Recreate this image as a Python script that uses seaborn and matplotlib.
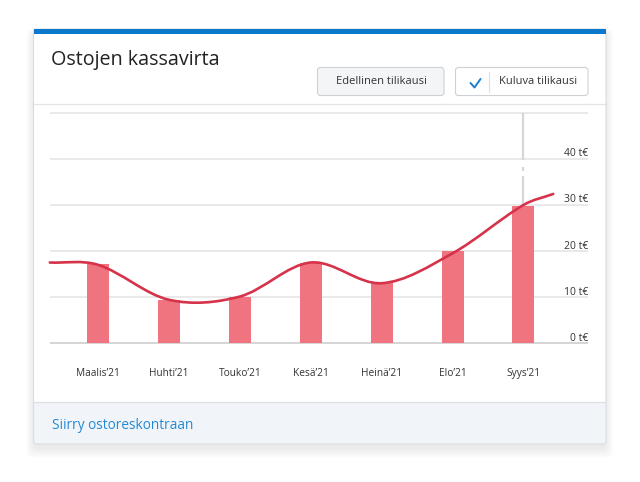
import matplotlib
matplotlib.use("Agg")
import matplotlib.pyplot as plt
import matplotlib.transforms as mtransforms
import seaborn as sns
from matplotlib.patches import FancyBboxPatch, Rectangle, PathPatch
from matplotlib.path import Path

# ---------------- data ----------------
months = ["Maalis’21", "Huhti’21", "Touko’21", "Kesä’21", "Heinä’21", "Elo’21", "Syys’21"]
bar_values = [17.2, 9.4, 10.1, 17.5, 13.2, 20.0, 29.8]
line_x = [-0.68, 0, 1, 2, 3, 4, 5, 6, 6.42]
line_values = [17.5, 17.0, 9.4, 10.1, 17.5, 13.0, 19.5, 30.0, 32.4]
y_ticks = [0, 10, 20, 30, 40, 50]
y_tick_labels = ["0 t€", "10 t€", "20 t€", "30 t€", "40 t€", ""]
cursor_x = 6
cursor_lo = [29.85, 37.3, 39.85]
cursor_hi = [36.2, 38.3, 50.0]
title = "Ostojen kassavirta"
btn_prev = "Edellinen tilikausi"
btn_curr = "Kuluva tilikausi"
footer_link = "Siirry ostoreskontraan"

# ---------------- style ----------------
sns.set_theme(style="white")
plt.rcParams['font.family'] = ['Open Sans', 'DejaVu Sans']

BAR_C = "#f07380"
LINE_C = "#d6334a"
GRID_C = "#e3e3e3"
TXT_C = "#333333"

fig = plt.figure(figsize=(6.4, 4.82), dpi=100)
fig.patch.set_facecolor("white")

# background / card axes in pixel coordinates
bg = fig.add_axes([0, 0, 1, 1])
bg.set_xlim(0, 640)
bg.set_ylim(482, 0)
bg.axis("off")

L, T, R, B = 33.5, 29.0, 606.0, 444.0
W, H = R - L, B - T

# soft shadow
for i in range(10):
    bg.add_patch(FancyBboxPatch((L - i * 0.8, T + 3 - i * 0.3), W + i * 1.6, H + 2 + i * 1.3,
                                boxstyle="round,pad=0,rounding_size=6",
                                fc="#000000", ec="none", alpha=0.009, zorder=0))
# card
bg.add_patch(FancyBboxPatch((L, T), W, H, boxstyle="round,pad=0,rounding_size=3",
                            fc="white", ec="none", zorder=1))
# footer
bg.add_patch(Rectangle((L, 402), W, B - 402, fc="#f1f5f9", ec="none", zorder=2))
bg.plot([L, R], [402, 402], color="#dde1e6", lw=0.9, zorder=3)
# header separator
bg.plot([L, R], [104, 104], color="#e4e4e4", lw=0.9, zorder=3)
# card border
bg.add_patch(FancyBboxPatch((L, T), W, H, boxstyle="round,pad=0,rounding_size=3",
                            fc="none", ec="#dcdcdc", lw=0.8, zorder=4))
# blue top bar
bg.add_patch(Rectangle((L, T), W, 5, fc="#0a79cc", ec="none", zorder=5))

# title
bg.text(51, 65, title, fontsize=14.2, color="#222222", va="baseline", ha="left", zorder=6)

# buttons
bg.add_patch(FancyBboxPatch((317.5, 67.5), 126.5, 28, boxstyle="round,pad=0,rounding_size=3",
                            fc="#f4f5f7", ec="#cdd1d6", lw=0.8, zorder=6))
bg.text(381, 82, btn_prev, fontsize=8, color=TXT_C, ha="center", va="center", zorder=7)
bg.add_patch(FancyBboxPatch((455.5, 67.5), 132.5, 28, boxstyle="round,pad=0,rounding_size=3",
                            fc="white", ec="#cdd1d6", lw=0.8, zorder=6))
bg.plot([470.5, 474.5, 480.5], [83, 87.5, 79], color="#1a7fd0", lw=1.4,
        solid_capstyle="round", solid_joinstyle="round", zorder=7)
bg.plot([489, 489], [72, 92], color="#e0e0e0", lw=0.9, zorder=7)
bg.text(499, 82, btn_curr, fontsize=8, color=TXT_C, ha="left", va="center", zorder=7)

# footer link
bg.text(51.5, 429, footer_link, fontsize=9.8, color="#2389d3", va="baseline", ha="left", zorder=7)

# ---------------- chart ----------------
top_px, bot_px = 111.6, 344.4
ax = fig.add_axes([50 / 640, 1 - bot_px / 482, 538 / 640, (bot_px - top_px) / 482])
ax.patch.set_alpha(0)

sns.barplot(x=months, y=bar_values, color=BAR_C, saturation=1, width=0.31,
            linewidth=0, ax=ax, zorder=2)

ax.set_xlim(-0.677, 6.91)
ax.set_ylim(-0.3, 50.3)
ax.set_yticks(y_ticks)
ax.set_axisbelow(True)
ax.grid(axis="y", color=GRID_C, lw=1.1)
ax.grid(axis="x", visible=False)
ax.axhline(0, color="#d6d6d6", lw=1.5, zorder=1)
for s in ax.spines.values():
    s.set_visible(False)
ax.tick_params(axis="y", length=0, labelleft=False)
ax.tick_params(axis="x", length=0, pad=17, labelsize=7.3, labelcolor=TXT_C)
ax.set_xlabel("")
ax.set_ylabel("")

# y labels sitting on the grid lines, right-aligned
blend = mtransforms.blended_transform_factory(ax.transAxes, ax.transData)
off = mtransforms.ScaledTranslation(0, 2.5 / 100, fig.dpi_scale_trans)
for v, lab in zip(y_ticks, y_tick_labels):
    if lab:
        ax.text(1.0, v, lab, transform=blend + off, ha="right", va="baseline",
                fontsize=7.5, color=TXT_C)

# hover cursor line
ax.vlines([cursor_x] * len(cursor_lo), cursor_lo, cursor_hi, color="#d6d6d6", lw=1.6, zorder=1.5)

# smooth line (cubic Hermite drawn as Bezier path)
n = len(line_x)
slopes = []
for i in range(n):
    if i == 0:
        m = (line_values[1] - line_values[0]) / (line_x[1] - line_x[0])
    elif i == n - 1:
        m = (line_values[-1] - line_values[-2]) / (line_x[-1] - line_x[-2])
    else:
        m = (line_values[i + 1] - line_values[i - 1]) / (line_x[i + 1] - line_x[i - 1])
    slopes.append(m)
verts = [(line_x[0], line_values[0])]
codes = [Path.MOVETO]
for i in range(n - 1):
    dx = line_x[i + 1] - line_x[i]
    verts += [(line_x[i] + dx / 3, line_values[i] + slopes[i] * dx / 3),
              (line_x[i + 1] - dx / 3, line_values[i + 1] - slopes[i + 1] * dx / 3),
              (line_x[i + 1], line_values[i + 1])]
    codes += [Path.CURVE4] * 3
ax.add_patch(PathPatch(Path(verts, codes), fill=False, ec=LINE_C, lw=1.9,
                       capstyle="round", zorder=4, clip_on=False))

fig.savefig("out.png", dpi=100, facecolor="white")
